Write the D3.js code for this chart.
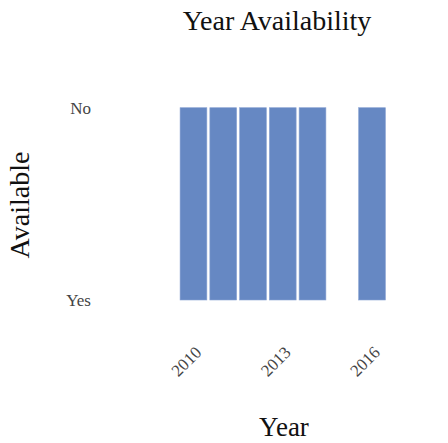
<!DOCTYPE html>
<html>
<head>
<meta charset="utf-8">
<script src="https://cdn.jsdelivr.net/npm/d3@7"></script>
<style>
  html, body { margin: 0; padding: 0; background: #fff; }
  svg { display: block; font-family: "Liberation Serif", "Times New Roman", serif; }
</style>
</head>
<body>
<svg id="chart" width="448" height="443"></svg>
<script>
// Years that appear in the data set and the availability flag for each
const years = [2010, 2011, 2012, 2013, 2014, 2016];
const available = ["No", "No", "No", "No", "No", "No"];
// Category order on the y axis (bottom to top) and x tick labels
const yCategories = ["Yes", "No"];
const xTicks = [2010, 2013, 2016];

const svg = d3.select("#chart");

const x = d3.scaleLinear().domain([2009.5, 2016.5]).range([178.6, 386.9]);
const y = d3.scalePoint().domain(yCategories).range([300, 107.7]);
const bandW = x(2010.45) - x(2009.55);

// Bars run from the first category up to the year's value
svg.append("g")
  .selectAll("rect")
  .data(years.map((yr, i) => ({ yr, v: available[i] })))
  .join("rect")
  .attr("x", d => x(d.yr) - bandW / 2)
  .attr("width", bandW)
  .attr("y", d => y(d.v))
  .attr("height", d => y(yCategories[0]) - y(d.v))
  .attr("fill", "#6688c3")
  .attr("stroke", "#8aa3d2")
  .attr("stroke-width", 0.6);

// Y axis (labels only)
const yAxis = svg.append("g")
  .attr("transform", "translate(91,0)")
  .call(d3.axisLeft(y).tickSize(0).tickPadding(0));
yAxis.select(".domain").remove();
yAxis.selectAll("text")
  .attr("font-size", 17)
  .attr("font-family", "Liberation Serif, serif")
  .attr("fill", "#444")
  .attr("dy", "0.35em");

// X axis (rotated labels only)
const xAxis = svg.append("g")
  .attr("transform", "translate(0,345)")
  .call(d3.axisBottom(x).tickValues(xTicks).tickFormat(d3.format("d")).tickSize(0).tickPadding(0));
xAxis.select(".domain").remove();
xAxis.selectAll("text")
  .attr("font-size", 17)
  .attr("font-family", "Liberation Serif, serif")
  .attr("fill", "#444")
  .attr("text-anchor", "end")
  .attr("dy", "0.7em")
  .attr("transform", "translate(0,0) rotate(-45)");

// Titles
svg.append("text")
  .attr("x", 277).attr("y", 30)
  .attr("text-anchor", "middle")
  .attr("font-size", 28)
  .attr("fill", "#111")
  .text("Year Availability");

svg.append("text")
  .attr("x", 284).attr("y", 436)
  .attr("text-anchor", "middle")
  .attr("font-size", 27)
  .attr("fill", "#111")
  .text("Year");

svg.append("text")
  .attr("transform", "translate(29,205) rotate(-90)")
  .attr("text-anchor", "middle")
  .attr("font-size", 28)
  .attr("fill", "#111")
  .text("Available");
</script>
</body>
</html>
